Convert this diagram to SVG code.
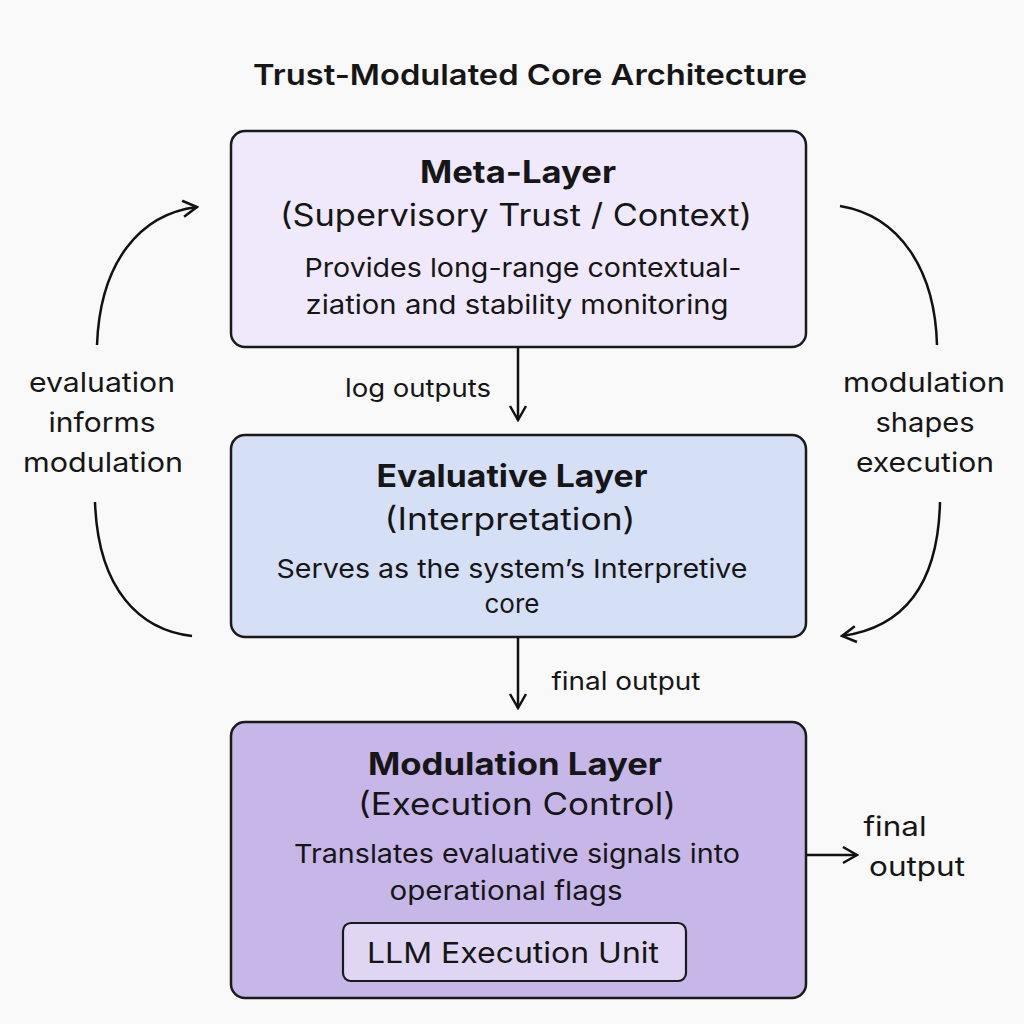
<svg xmlns="http://www.w3.org/2000/svg" width="1024" height="1024" viewBox="0 0 1024 1024">
<style>
text{font-family:Inter,"Noto Sans","Liberation Sans",sans-serif;fill:#161616;text-anchor:middle}
.title{font-size:29px;font-weight:600}
.h{font-size:31px;font-weight:700}
.sub{font-size:31px;font-weight:400}
.body{font-size:26px;font-weight:400}
.lbl{font-size:25px;font-weight:400}
.side{font-size:27px;font-weight:400}
.box{stroke:#1a1a1a;stroke-width:2.5}
.conn{fill:none;stroke:#111;stroke-width:2.5}
</style>
<defs>
<marker id="ah" viewBox="0 0 20 20" refX="18" refY="10" markerWidth="20" markerHeight="20" markerUnits="userSpaceOnUse" orient="auto">
<path d="M4,2 L18,10 L4,18" fill="none" stroke="#111" stroke-width="2.5"/>
</marker>
</defs>
<rect width="1024" height="1024" fill="#f9f9f9"/>
<text class="title" x="530" y="85" textLength="554" lengthAdjust="spacingAndGlyphs">Trust-Modulated Core Architecture</text>

<g id="meta-layer">
<rect class="box" x="231" y="131" width="575" height="216" rx="14" fill="#f0e9fb"/>
<text class="h" x="518" y="183" textLength="196" lengthAdjust="spacingAndGlyphs">Meta-Layer</text>
<text class="sub" x="516" y="226" textLength="472" lengthAdjust="spacingAndGlyphs">(Supervisory Trust / Context)</text>
<text class="body" x="523" y="277" textLength="437" lengthAdjust="spacingAndGlyphs">Provides long-range contextual-</text>
<text class="body" x="517" y="314" textLength="423" lengthAdjust="spacingAndGlyphs">ziation and stability monitoring</text>
</g>

<g id="evaluative-layer">
<rect class="box" x="231" y="435" width="575" height="202" rx="14" fill="#d5e0f7"/>
<text class="h" x="512" y="487" textLength="271" lengthAdjust="spacingAndGlyphs">Evaluative Layer</text>
<text class="sub" x="510" y="530" textLength="251" lengthAdjust="spacingAndGlyphs">(Interpretation)</text>
<text class="body" x="512" y="578" textLength="471" lengthAdjust="spacingAndGlyphs">Serves as the system’s Interpretive</text>
<text class="body" x="512" y="613">core</text>
</g>

<g id="modulation-layer">
<rect class="box" x="231" y="722" width="575" height="276" rx="14" fill="#c6b7e8"/>
<text class="h" x="515" y="775" textLength="294" lengthAdjust="spacingAndGlyphs">Modulation Layer</text>
<text class="sub" x="517" y="815" textLength="318" lengthAdjust="spacingAndGlyphs">(Execution Control)</text>
<text class="body" x="517" y="863" textLength="446" lengthAdjust="spacingAndGlyphs">Translates evaluative signals into</text>
<text class="body" x="506" y="900" textLength="233" lengthAdjust="spacingAndGlyphs">operational flags</text>
<g id="llm-execution-unit">
<rect x="343" y="923" width="343" height="58" rx="8" fill="#e0d6f3" stroke="#1a1a1a" stroke-width="2.2"/>
<text class="sub" x="513" y="963" style="font-size:29px" textLength="292" lengthAdjust="spacingAndGlyphs">LLM Execution Unit</text>
</g>
</g>

<g id="connectors">
<path class="conn" d="M518,348 L518,420" marker-end="url(#ah)"/>
<path class="conn" d="M518,638 L518,708" marker-end="url(#ah)"/>
<path class="conn" d="M807,855 L857,855" marker-end="url(#ah)"/>
<path class="conn" d="M97,345 C100,262 140,214 197,207" marker-end="url(#ah)"/>
<path class="conn" d="M95,502 C98,590 140,630 192,636"/>
<path class="conn" d="M840,206 C900,216 935,270 937,345"/>
<path class="conn" d="M940,502 C938,590 900,628 842,636" marker-end="url(#ah)"/>
<text class="lbl" x="418" y="397" textLength="146" lengthAdjust="spacingAndGlyphs">log outputs</text>
<text class="lbl" x="626" y="690" textLength="149" lengthAdjust="spacingAndGlyphs">final output</text>
<text class="side" x="895" y="836" textLength="63" lengthAdjust="spacingAndGlyphs">final</text>
<text class="side" x="917" y="876" textLength="96" lengthAdjust="spacingAndGlyphs">output</text>
<text class="side" x="102" y="392" textLength="146" lengthAdjust="spacingAndGlyphs">evaluation</text>
<text class="side" x="102" y="432" textLength="107" lengthAdjust="spacingAndGlyphs">informs</text>
<text class="side" x="103" y="472" textLength="160" lengthAdjust="spacingAndGlyphs">modulation</text>
<text class="side" x="924" y="392" textLength="162" lengthAdjust="spacingAndGlyphs">modulation</text>
<text class="side" x="925" y="432" textLength="99" lengthAdjust="spacingAndGlyphs">shapes</text>
<text class="side" x="925" y="472" textLength="138" lengthAdjust="spacingAndGlyphs">execution</text>
</g>
</svg>
